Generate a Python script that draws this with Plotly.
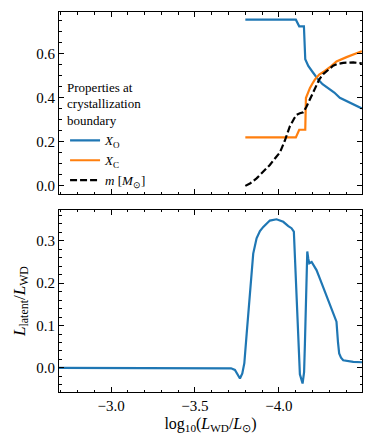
import plotly.graph_objects as go
from plotly.subplots import make_subplots

# composition at the crystallization boundary
xo_lum = [-3.80, -4.101, -4.121, -4.149, -4.157, -4.175, -4.204, -4.234, -4.260, -4.290, -4.330, -4.363, -4.403, -4.450, -4.494]
xo_val = [0.755, 0.755, 0.725, 0.725, 0.575, 0.545, 0.514, 0.483, 0.462, 0.446, 0.424, 0.400, 0.386, 0.370, 0.352]

xc_lum = [-3.80, -4.101, -4.121, -4.157, -4.161, -4.172, -4.185, -4.200, -4.214, -4.240, -4.274, -4.310, -4.343, -4.403, -4.450, -4.494]
xc_val = [0.220, 0.220, 0.255, 0.255, 0.399, 0.425, 0.445, 0.465, 0.483, 0.506, 0.522, 0.543, 0.565, 0.585, 0.598, 0.612]

m_lum = [-3.80, -3.83, -3.867, -3.90, -3.946, -3.98, -4.006, -4.035, -4.065, -4.09, -4.105, -4.125, -4.145, -4.165, -4.185, -4.204, -4.224, -4.240, -4.264, -4.30, -4.323, -4.35, -4.383, -4.443, -4.494]
m_val = [0.0, 0.012, 0.034, 0.058, 0.095, 0.128, 0.152, 0.205, 0.270, 0.305, 0.323, 0.330, 0.334, 0.361, 0.395, 0.422, 0.455, 0.483, 0.508, 0.533, 0.546, 0.554, 0.559, 0.561, 0.557]

# latent heat fraction
ll_lum = [-2.60, -3.673, -3.715, -3.738, -3.754, -3.768, -3.782, -3.794, -3.808, -3.827, -3.847, -3.867, -3.887, -3.907,
          -3.946, -3.986, -4.026, -4.056, -4.075, -4.089, -4.097, -4.105, -4.110, -4.125, -4.141, -4.150, -4.155, -4.165,
          -4.169, -4.175, -4.181, -4.195, -4.224, -4.244, -4.333, -4.343, -4.352, -4.359, -4.370, -4.383, -4.443, -4.52]
ll_val = [0.0, 0.0, -0.001, -0.005, -0.015, -0.025, -0.013, 0.011, 0.081, 0.184, 0.270, 0.306, 0.323, 0.333,
          0.348, 0.351, 0.345, 0.335, 0.330, 0.322, 0.24, 0.152, 0.146, -0.015, -0.037, -0.01, 0.058, 0.255,
          0.275, 0.258, 0.247, 0.250, 0.231, 0.211, 0.121, 0.109, 0.06, 0.034, 0.024, 0.018, 0.014, 0.013]

font = "Liberation Serif"
# page body has an 8px margin, so the figure is sized and padded to land on the reference frame
fig = make_subplots(rows=2, cols=1, vertical_spacing=0.042)

fig.add_trace(go.Scatter(x=xo_lum, y=xo_val, mode='lines', name='<i>X</i><sub>O</sub>',
                         line=dict(color='#1f77b4', width=2.2)), row=1, col=1)
fig.add_trace(go.Scatter(x=xc_lum, y=xc_val, mode='lines', name='<i>X</i><sub>C</sub>',
                         line=dict(color='#ff7f0e', width=2.2)), row=1, col=1)
fig.add_trace(go.Scatter(x=m_lum, y=m_val, mode='lines', name='<i>m</i> [<i>M</i><sub>⊙</sub>]',
                         line=dict(color='black', width=2.2, dash='7px,3px')), row=1, col=1)
fig.add_trace(go.Scatter(x=ll_lum, y=ll_val, mode='lines', showlegend=False,
                         line=dict(color='#1f77b4', width=2.2)), row=2, col=1)

axis_style = dict(showline=True, linecolor='black', linewidth=1, mirror='allticks', ticks='inside',
                  ticklen=5, tickcolor='black', showgrid=False, zeroline=False,
                  tickfont=dict(family=font, size=15, color='black'))

fig.update_xaxes(**axis_style, range=[-2.69, -4.495], dtick=0.5, tick0=0, tickformat='.1f',
                 minor=dict(ticks='inside', dtick=0.1, ticklen=2.5, tickcolor='black'))
fig.update_xaxes(showticklabels=False, matches='x2', row=1, col=1)
fig.update_xaxes(title=dict(text='log<sub>10</sub>(<i>L</i><sub>WD</sub>/<i>L</i><sub>⊙</sub>)',
                            font=dict(family=font, size=16, color='black'), standoff=4), row=2, col=1)

fig.update_yaxes(**axis_style)
fig.update_yaxes(range=[-0.037, 0.79], dtick=0.2, tickformat='.1f',
                 minor=dict(ticks='inside', dtick=0.05, ticklen=2.5, tickcolor='black'), row=1, col=1)
fig.update_yaxes(range=[-0.057, 0.373], dtick=0.1, tickformat='.1f',
                 minor=dict(ticks='inside', dtick=0.02, ticklen=2.5, tickcolor='black'),
                 title=dict(text='<i>L</i><sub>latent</sub>/<i>L</i><sub>WD</sub>',
                            font=dict(family=font, size=17, color='black'), standoff=6), row=2, col=1)

fig.update_layout(
    width=358, height=429,
    margin=dict(l=51, r=4, t=4, b=45),
    plot_bgcolor='white', paper_bgcolor='white',
    font=dict(family=font, size=14, color='black'),
    legend=dict(x=0.02, y=0.835, xanchor='left', yanchor='top', bgcolor='rgba(0,0,0,0)',
                font=dict(family=font, size=13), tracegroupgap=0,
                title=dict(text='Properties at<br>crystallization<br>boundary',
                           font=dict(family=font, size=13))),
)

fig.write_html("out.html")
